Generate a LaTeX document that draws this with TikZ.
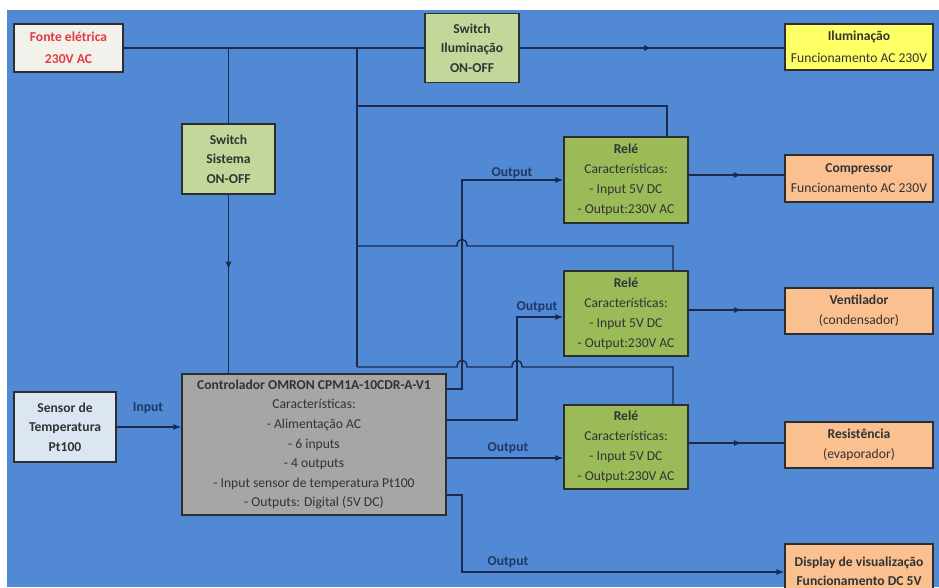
\documentclass[tikz,border=0pt]{standalone}
\usepackage{fontspec}
\setmainfont{Carlito}
\usetikzlibrary{arrows.meta,decorations.markings}
\definecolor{bgblue}{HTML}{5289D4}
\definecolor{wirec}{HTML}{1B2A4E}
\definecolor{edgec}{HTML}{2E2E2E}
\definecolor{txtc}{HTML}{333333}
\definecolor{lblc}{HTML}{1F3864}
\definecolor{fontefill}{HTML}{F2F1EC}
\definecolor{fontetxt}{HTML}{E53A3F}
\definecolor{swfill}{HTML}{C4D79B}
\definecolor{relefill}{HTML}{9BBB59}
\definecolor{ilumfill}{HTML}{FFFF66}
\definecolor{loadfill}{HTML}{FAC090}
\definecolor{sensfill}{HTML}{DCE6F2}
\definecolor{ctrlfill}{HTML}{A6A6A6}
\begin{document}
\begin{tikzpicture}[x=1pt,y=-1pt,
  box/.style={draw=edgec,line width=1.2pt,inner sep=0pt,align=center,text=txtc,
    font={\fontsize{13.6}{20}\selectfont}},
  wire/.style={draw=wirec,line width=1.4pt},
  tip/.style={-{Latex[length=8pt,width=6pt]}},
  midarrow/.style={postaction={decorate},decoration={markings,
    mark=at position #1 with {\arrow{Latex[length=8pt,width=6pt]}}}},
  lbl/.style={text=lblc,font={\fontsize{13.6}{16}\selectfont\bfseries},inner sep=0pt}]
\clip (0,0) rectangle (939,587);
\useasboundingbox (0,0) rectangle (939,587);
\fill[white] (0,0) rectangle (939,587);
\fill[bgblue] (7,10) rectangle (939,587);

% boxes
\node[box,fill=fontefill,text=fontetxt,minimum width=109pt,minimum height=48pt,font={\fontsize{13.6}{22}\selectfont\bfseries}]
  (fonte) at (68.5,48) {Fonte elétrica\\230V AC};
\node[box,fill=swfill,minimum width=93pt,minimum height=70pt,font={\fontsize{13.6}{19.5}\selectfont\bfseries}]
  (swsis) at (228.5,159) {Switch\\Sistema\\ON-OFF};
\node[box,fill=swfill,minimum width=94pt,minimum height=69pt,font={\fontsize{13.6}{19.5}\selectfont\bfseries}]
  (swil) at (472,48) {Switch\\Iluminação\\ON-OFF};
\node[box,fill=ilumfill,minimum width=148pt,minimum height=46pt,font={\fontsize{13.6}{22}\selectfont}]
  (ilum) at (859,47) {\textbf{Iluminação}\\Funcionamento AC 230V};
\node[box,fill=relefill,minimum width=124pt,minimum height=86pt]
  (rele1) at (626,180) {\textbf{Relé}\\Características:\\- Input 5V DC\\- Output:230V AC};
\node[box,fill=loadfill,minimum width=148pt,minimum height=47pt]
  (comp) at (859,178.5) {\textbf{Compressor}\\Funcionamento AC 230V};
\node[box,fill=relefill,minimum width=124pt,minimum height=85pt]
  (rele2) at (626,313.5) {\textbf{Relé}\\Características:\\- Input 5V DC\\- Output:230V AC};
\node[box,fill=loadfill,minimum width=148pt,minimum height=46pt]
  (vent) at (859,311) {\textbf{Ventilador}\\(condensador)};
\node[box,fill=relefill,minimum width=124pt,minimum height=84pt]
  (rele3) at (626,447) {\textbf{Relé}\\Características:\\- Input 5V DC\\- Output:230V AC};
\node[box,fill=loadfill,minimum width=148pt,minimum height=46pt]
  (resist) at (859,445) {\textbf{Resistência}\\(evaporador)};
\node[box,fill=loadfill,minimum width=148pt,minimum height=54pt,font={\fontsize{13.6}{19}\selectfont\bfseries}]
  (display) at (859,571) {Display de visualização\\Funcionamento DC 5V};
\node[box,fill=sensfill,minimum width=102pt,minimum height=70pt,font={\fontsize{13.6}{19.5}\selectfont\bfseries}]
  (sensor) at (65,427) {Sensor de\\Temperatura\\Pt100};
\node[box,fill=ctrlfill,minimum width=264pt,minimum height=141pt,font={\fontsize{13.6}{19.6}\selectfont}]
  (ctrl) at (314,444.5) {\textbf{Controlador OMRON CPM1A-10CDR-A-V1}\\Características:\\- Alimentação AC\\- 6 inputs\\- 4 outputs\\- Input sensor de temperatura Pt100\\- Outputs: Digital (5V DC)};

% junction coordinates
\coordinate (jb) at (357,48);
\coordinate (jb1) at (357,106);
\coordinate (jb2) at (357,246);
\coordinate (jb3) at (357,367);
\coordinate (r1p) at (667,106);
\coordinate (r2p) at (673,246);
\coordinate (r3p) at (673,367);
\coordinate (c1) at (446,389);
\coordinate (c2) at (446,420);
\coordinate (c3) at (446,458);
\coordinate (c4) at (446,495);
\coordinate (v1) at (462,180);
\coordinate (v2) at (517,317);
\coordinate (v4) at (462,572);
\coordinate (q1) at (688,175);
\coordinate (q2) at (688,310);
\coordinate (q3) at (688,443);

% power wiring
\draw[wire] (fonte.east) -- (swil.west);
\draw[wire] (fonte.east -| swsis.north) -- (swsis.north);
\draw[wire,midarrow=0.42] (swsis.south) -- (swsis.south |- ctrl.north);
\draw[wire,midarrow=0.5] (swil.east) -- (swil.east -| ilum.west);
\draw[wire] (jb) -- (jb3);
\draw[wire] (jb1) -- (r1p) -- (r1p |- rele1.north);
\draw[wire] (jb2) -- (457,246) .. controls (457,237) and (467,237) .. (467,246) -- (r2p) -- (r2p |- rele2.north);
\draw[wire] (jb3) -- (457,367) .. controls (457,358) and (467,358) .. (467,367)
  -- (512,367) .. controls (512,358) and (522,358) .. (522,367) -- (r3p) -- (r3p |- rele3.north);

% relay outputs
\draw[wire,midarrow=0.56] (q1) -- (q1 -| comp.west);
\draw[wire,midarrow=0.56] (q2) -- (q2 -| vent.west);
\draw[wire,midarrow=0.56] (q3) -- (q3 -| resist.west);

% controller signals
\draw[wire,tip] (sensor.east) -- (sensor.east -| ctrl.west);
\draw[wire,tip] (c1) -| (v1) -- (v1 -| rele1.west);
\draw[wire,tip] (c2) -| (v2) -- (v2 -| rele2.west);
\draw[wire,tip] (c3) -- (c3 -| rele3.west);
\draw[wire,tip] (c4) -| (v4) -- (v4 -| display.west);

% labels
\node[lbl] (lin) at (148,408) {Input};
\node[lbl] (lo1) at (512,173) {Output};
\node[lbl] (lo2) at (537,307) {Output};
\node[lbl] (lo3) at (508,448) {Output};
\node[lbl] (lo4) at (508,562) {Output};
\end{tikzpicture}
\end{document}
